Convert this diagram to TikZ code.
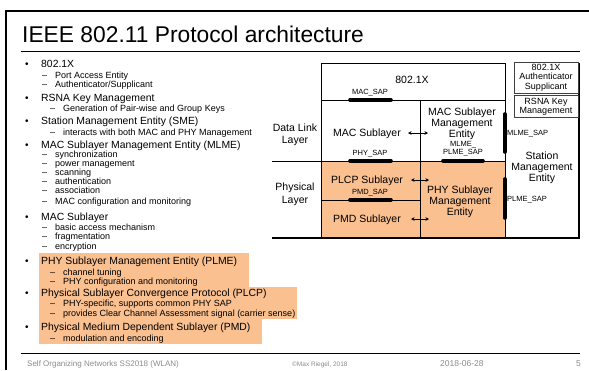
\documentclass[tikz,border=0pt]{standalone}
\usepackage{fontspec}
\setmainfont{Liberation Sans}
\usetikzlibrary{arrows.meta}
\definecolor{hilite}{HTML}{FAC090}
\definecolor{footgray}{HTML}{8C8C8C}
\newcommand\fsz[1]{\fontsize{#1}{1.2\dimexpr#1pt\relax}\selectfont}
\tikzset{
  lvlone/.style={anchor=base west, inner sep=0pt, font=\fsz{10.4}},
  lvltwo/.style={anchor=base west, inner sep=0pt, font=\fsz{9}},
  bulletmark/.style={anchor=base west, inner sep=0pt, font=\fsz{10}},
  dashmark/.style={anchor=base west, inner sep=0pt, font=\fsz{9}},
  layerlbl/.style={align=center, inner sep=0pt, font=\fsz{10.5}, text depth=0pt},
  saplbl/.style={align=center, inner sep=0pt, font=\fsz{7.5}},
  boxlbl/.style={align=center, inner sep=0pt, font=\fsz{9}},
  sapbar/.style={line width=3.6pt, line cap=round},
  grid/.style={line width=0.9pt},
  heavy/.style={line width=1.6pt},
  dblarrow/.style={{Stealth[length=3.5pt,width=3.5pt]}-{Stealth[length=3.5pt,width=3.5pt]}, line width=0.9pt},
  footer/.style={anchor=base west, inner sep=0pt, text=footgray},
}
\begin{document}
\begin{tikzpicture}[x=1pt,y=-1pt]
\useasboundingbox (0,0) rectangle (589,370);
\fill[white] (0,0) rectangle (589,370);

% slide frame
\draw[line width=2.2pt] (6,370) -- (6,11) -- (589,11);

% title and rules
\node[anchor=base west, inner sep=0pt, font=\fsz{22.8}] (title) at (22,42) {IEEE 802.11 Protocol architecture};
\draw[line width=1pt] (21,51) -- (580,51);
\draw[line width=1pt] (21,353) -- (580,353);

% highlighted PHY entries
\fill[hilite] (39,253) rectangle (249,287);
\fill[hilite] (39,287) rectangle (297,319);
\fill[hilite] (39,319) rectangle (262,344);

% bullet list
\foreach \y in {67.5,101.5,124.5,148.5,220.5,264.5,296.5,330.5}
  \node[bulletmark] at (25,\y) {•};
\foreach \y in {78,87,157,166,175,184,193,204.5,230,239.5,249}
  \node[dashmark] at (42,\y) {–};
\foreach \y in {111,135,275,284,306,316,341}
  \node[dashmark] at (50,\y) {–};

\node[lvlone] (b1) at (41,67.5) {802.1X};
\node[lvltwo] (b1a) at (55,78) {Port Access Entity};
\node[lvltwo] (b1b) at (55,87) {Authenticator/Supplicant};
\node[lvlone] (b2) at (41,101.5) {RSNA Key Management};
\node[lvltwo] (b2a) at (63,111) {Generation of Pair-wise and Group Keys};
\node[lvlone] (b3) at (41,124.5) {Station Management Entity (SME)};
\node[lvltwo] (b3a) at (63,135) {interacts with both MAC and PHY Management};
\node[lvlone] (b4) at (41,148.5) {MAC Sublayer Management Entity (MLME)};
\node[lvltwo] (b4a) at (55,157) {synchronization};
\node[lvltwo] (b4b) at (55,166) {power management};
\node[lvltwo] (b4c) at (55,175) {scanning};
\node[lvltwo] (b4d) at (55,184) {authentication};
\node[lvltwo] (b4e) at (55,193) {association};
\node[lvltwo] (b4f) at (55,204.5) {MAC configuration and monitoring};
\node[lvlone] (b5) at (41,220.5) {MAC Sublayer};
\node[lvltwo] (b5a) at (55,230) {basic access mechanism};
\node[lvltwo] (b5b) at (55,239.5) {fragmentation};
\node[lvltwo] (b5c) at (55,249) {encryption};
\node[lvlone] (b6) at (41,264.5) {PHY Sublayer Management Entity (PLME)};
\node[lvltwo] (b6a) at (63,275) {channel tuning};
\node[lvltwo] (b6b) at (63,284) {PHY configuration and monitoring};
\node[lvlone] (b7) at (41,296.5) {Physical Sublayer Convergence Protocol (PLCP)};
\node[lvltwo] (b7a) at (63,306) {PHY-specific, supports common PHY SAP};
\node[lvltwo] (b7b) at (63,316) {provides Clear Channel Assessment signal (carrier sense)};
\node[lvlone] (b8) at (41,330.5) {Physical Medium Dependent Sublayer (PMD)};
\node[lvltwo] (b8a) at (63,341) {modulation and encoding};

% architecture diagram: PHY area
\fill[hilite] (321,161) rectangle (505,238);
\draw[grid] (321,63) rectangle (505,238);
\draw[grid] (321,100) -- (505,100);
\draw[grid] (420,100) -- (420,238);
\draw[grid] (272,161) -- (505,161);
\draw[grid] (321,200) -- (420,200);
\draw[heavy] (579,63) -- (579,238);
\draw[heavy] (272,238) -- (580,238);

% small boxes of the station management entity
\node[boxlbl, draw=black!75, line width=0.8pt, minimum width=64pt, minimum height=31pt] (auth) at (546,77.5) {802.1X\\[-1.5pt]Authenticator\\[-1.5pt]Supplicant};
\node[boxlbl, draw=black!75, line width=0.8pt, minimum width=64pt, minimum height=22pt] (rsna) at (546,106.5) {RSNA Key\\[-1.5pt]Management};

% entity labels
\node[layerlbl] (dot1x) at (412,80) {802.1X};
\node[layerlbl] (mac) at (367,133) {MAC Sublayer};
\node[layerlbl] (mlme) at (462,123) {MAC Sublayer\\[-1.5pt]Management\\[-1.5pt]Entity};
\node[layerlbl] (plcp) at (367,180) {PLCP Sublayer};
\node[layerlbl] (pmd) at (367,219) {PMD Sublayer};
\node[layerlbl] (plme) at (460,200.5) {PHY Sublayer\\[-1.5pt]Management\\[-1.5pt]Entity};
\node[layerlbl] (sme) at (542,166.5) {Station\\[-1.5pt]Management\\[-1.5pt]Entity};
\node[layerlbl] (dll) at (295,133.5) {Data Link\\[0pt]Layer};
\node[layerlbl] (phl) at (295,193) {Physical\\[0pt]Layer};

% service access points
\coordinate (macsapA) at (350,100);  \coordinate (macsapB) at (391,100);
\coordinate (physapA) at (350,161);  \coordinate (physapB) at (391,161);
\coordinate (pmdsapA) at (350,200);  \coordinate (pmdsapB) at (391,200);
\coordinate (mpsapA) at (443,161);   \coordinate (mpsapB) at (483,161);
\coordinate (mlsapA) at (505,114);   \coordinate (mlsapB) at (505,152);
\coordinate (plsapA) at (505,179);   \coordinate (plsapB) at (505,218);
\draw[sapbar] (macsapA) -- (macsapB);
\draw[sapbar] (physapA) -- (physapB);
\draw[sapbar] (pmdsapA) -- (pmdsapB);
\draw[sapbar] (mpsapA) -- (mpsapB);
\draw[sapbar] (mlsapA) -- (mlsapB);
\draw[sapbar] (plsapA) -- (plsapB);
\node[saplbl] (macsap) at (370,92.5) {MAC\_SAP};
\node[saplbl] (physap) at (370,153.5) {PHY\_SAP};
\node[saplbl] (pmdsap) at (370,192.5) {PMD\_SAP};
\node[saplbl] (mpsap) at (463,148.5) {MLME\_\\[-1pt]PLME\_SAP};
\node[saplbl, anchor=west] (mlsap) at (507,134) {MLME\_SAP};
\node[saplbl, anchor=west] (plsap) at (507,200) {PLME\_SAP};

% management interactions across the sublayer boundary
\coordinate (a1l) at (408,133); \coordinate (a1r) at (428,133);
\coordinate (a2l) at (411,180); \coordinate (a2r) at (429,180);
\coordinate (a3l) at (411,219); \coordinate (a3r) at (429,219);
\draw[dblarrow] (a1l) -- (a1r);
\draw[dblarrow] (a2l) -- (a2r);
\draw[dblarrow] (a3l) -- (a3r);

% footer
\node[footer, font=\fsz{8}] (f1) at (27,366) {Self Organizing Networks SS2018 (WLAN)};
\node[footer, font=\fsz{6.5}] (f2) at (292,366) {©Max Riegel, 2018};
\node[footer, font=\fsz{8.5}] (f3) at (440,366) {2018-06-28};
\node[footer, font=\fsz{8.5}] (f4) at (576,366) {5};
\end{tikzpicture}
\end{document}
